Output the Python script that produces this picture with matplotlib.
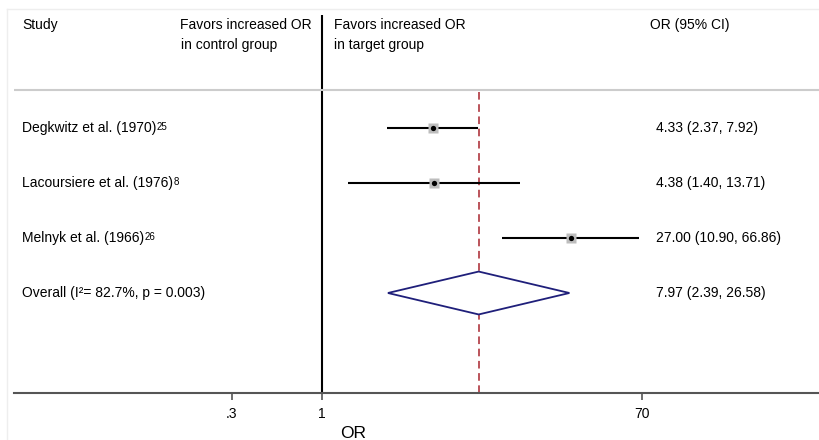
import numpy as np
import matplotlib
matplotlib.use("Agg")
import matplotlib.pyplot as plt
from matplotlib.lines import Line2D

plt.rcParams['font.family'] = ['Liberation Sans', 'DejaVu Sans']

# study data
studies = ["Degkwitz et al. (1970)", "Lacoursiere et al. (1976)", "Melnyk et al. (1966)"]
refs = ["25", "8", "26"]
odds = [4.33, 4.38, 27.00]
lower = [2.37, 1.40, 10.90]
upper = [7.92, 13.71, 66.86]
ci_text = ["4.33 (2.37, 7.92)", "4.38 (1.40, 13.71)", "27.00 (10.90, 66.86)"]

# pooled estimate
overall_label = "Overall (I\u00b2= 82.7%, p = 0.003)"
overall_or = 7.97
overall_lo = 2.39
overall_hi = 26.58
overall_text = "7.97 (2.39, 26.58)"

tick_vals = [0.3, 1, 70]
tick_labels = [".3", "1", "70"]
xlim = (0.0167, 740)

W, H = 820, 440
fig = plt.figure(figsize=(W / 100, H / 100), dpi=100)
ax = fig.add_axes([14 / W, (H - 393) / H, (W - 14) / W, (393 - 9) / H])

# row units: row i sits at y = i, 55 px apart, first row at 128 px
def py(p):
    return (p - 128) / 55.0

ax.set_xscale("log")
ax.set_xlim(*xlim)
ax.set_ylim(py(393), py(9))

for s in ["top", "right", "left"]:
    ax.spines[s].set_visible(False)
ax.spines["bottom"].set_color("#555555")
ax.spines["bottom"].set_linewidth(1.5)
ax.set_yticks([])
ax.xaxis.set_major_locator(matplotlib.ticker.FixedLocator(tick_vals))
ax.xaxis.set_minor_locator(matplotlib.ticker.NullLocator())
ax.set_xticklabels(tick_labels)
ax.tick_params(axis="x", length=5, width=1.2, color="#555555", labelsize=10, pad=5)
ax.set_xlabel("OR", fontsize=12.5)
ax.xaxis.set_label_coords((353 - 14) / (W - 14), -0.085)

# null line and overall dashed line
ax.plot([1, 1], [py(15), py(393)], color="black", lw=1.5, solid_capstyle="butt")
ax.plot([overall_or, overall_or], [py(92), py(393)], color="#a8252d", lw=1.1,
        dashes=(5, 3))

# header separator
ax.axhline(py(90), color="#cccccc", lw=1.5)

# study rows
for i in range(len(studies)):
    ax.plot([lower[i], upper[i]], [i, i], color="black", lw=1.5, solid_capstyle="butt")
    ax.plot(odds[i], i, marker="s", ms=6.5, color="#bdbdbd", mec="none")
    ax.plot(odds[i], i, marker="o", ms=3.8, color="black", mec="none")

# overall diamond
yo = len(studies)
h = 0.39
ax.fill([overall_lo, overall_or, overall_hi, overall_or, overall_lo],
        [yo, yo - h, yo, yo + h, yo], facecolor="white", edgecolor="#1f1f7a", lw=1.3,
        zorder=3)

tr = ax.get_yaxis_transform()
def fx(p):
    return (p - 14) / (W - 14)

fs = 10
for i in range(len(studies)):
    t = ax.text(fx(22), i, studies[i], transform=tr, va="center", ha="left", fontsize=fs)
    ax.annotate(refs[i], xy=(1, 1), xycoords=t, xytext=(0.2, -1),
                textcoords="offset points", va="top", ha="left", fontsize=7)
    ax.text(fx(656), i, ci_text[i], transform=tr, va="center", ha="left", fontsize=fs)
ax.text(fx(22), yo, overall_label, transform=tr, va="center", ha="left", fontsize=fs)
ax.text(fx(656), yo, overall_text, transform=tr, va="center", ha="left", fontsize=fs)

# headers
ax.text(fx(22), py(25), "Study", transform=tr, va="center", ha="left", fontsize=fs)
ax.text(fx(180), py(25), "Favors increased OR", transform=tr, va="center", ha="left", fontsize=fs)
ax.text(fx(181), py(45), "in control group", transform=tr, va="center", ha="left", fontsize=fs)
ax.text(fx(334), py(25), "Favors increased OR", transform=tr, va="center", ha="left", fontsize=fs)
ax.text(fx(334), py(45), "in target group", transform=tr, va="center", ha="left", fontsize=fs)
ax.text(fx(650), py(25), "OR (95% CI)", transform=tr, va="center", ha="left", fontsize=fs)

# faint outer frame
fig.add_artist(Line2D([7 / W, 1], [1 - 9 / H, 1 - 9 / H], color="#eeeeee", lw=1))
fig.add_artist(Line2D([7 / W, 7 / W], [0, 1 - 9 / H], color="#eeeeee", lw=1))

fig.savefig("out.png", dpi=100)
